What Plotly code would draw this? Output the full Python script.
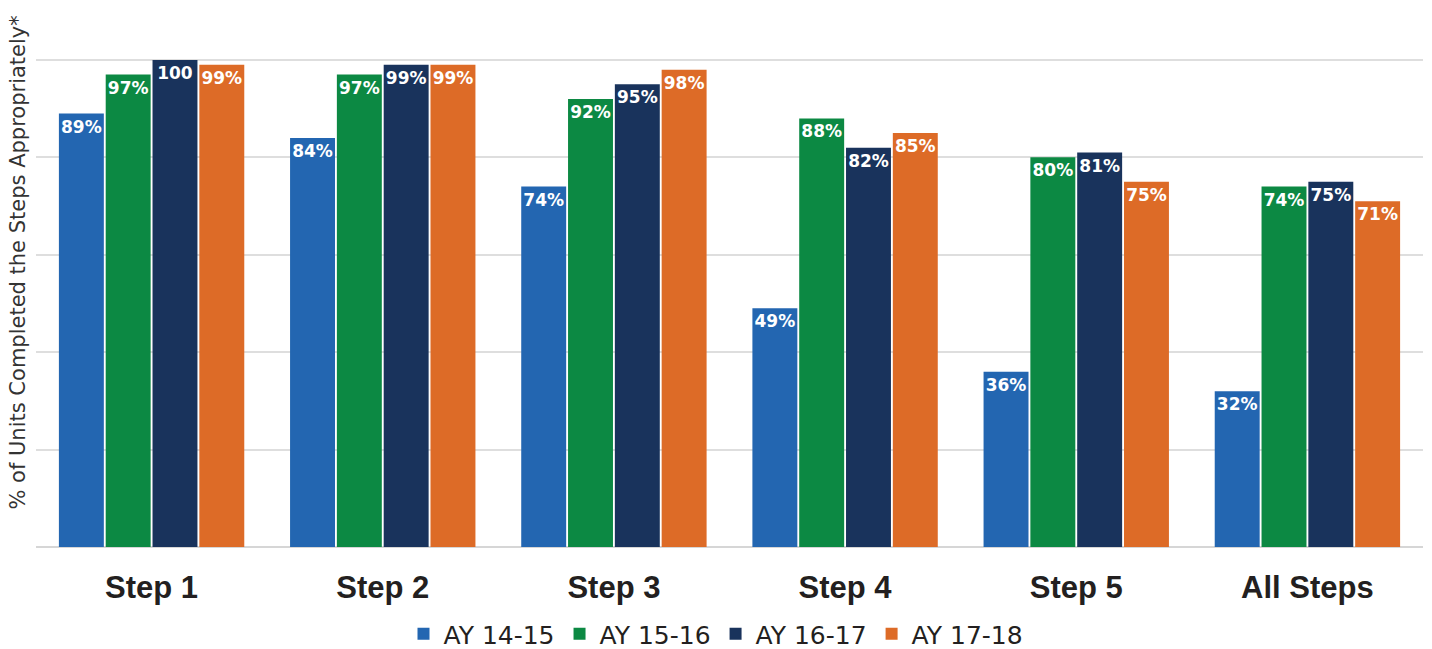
import plotly.graph_objects as go

# Categories and series
categories = ["Step 1", "Step 2", "Step 3", "Step 4", "Step 5", "All Steps"]
series_names = ["AY 14-15", "AY 15-16", "AY 16-17", "AY 17-18"]
ay_14_15 = [89, 84, 74, 49, 36, 32]
ay_15_16 = [97, 97, 92, 88, 80, 74]
ay_16_17 = [100, 99, 95, 82, 81, 75]
ay_17_18 = [99, 99, 98, 85, 75, 71]
colors = ["#2366B1", "#0C8943", "#19335C", "#DD6B27"]
y_title = "% of Units Completed the Steps Appropriately*"

all_series = [ay_14_15, ay_15_16, ay_16_17, ay_17_18]


def label(v):
    # a full score is printed without the percent sign
    return "100" if v == 100 else f"{v}%"


fig = go.Figure()
for name, vals, col in zip(series_names, all_series, colors):
    fig.add_trace(go.Bar(
        x=categories,
        y=vals,
        name=name,
        marker=dict(color=col, line=dict(width=0)),
        text=[label(v) for v in vals],
        textposition="inside",
        insidetextanchor="end",
        textangle=0,
        constraintext="none",
        textfont=dict(family="DejaVu Sans", size=17, color="white", weight="bold"),
        cliponaxis=False,
    ))

# vertical axis caption, placed a little above the plot's centre
fig.add_annotation(
    text=y_title,
    xref="paper", yref="paper",
    x=-0.013, y=0.561,
    xanchor="center", yanchor="middle",
    textangle=-90,
    showarrow=False,
    font=dict(family="DejaVu Sans", size=21, color="#333333"),
)

fig.update_layout(
    width=1432,
    height=649,
    margin=dict(l=36, r=9, t=40, b=102, autoexpand=False),
    paper_bgcolor="white",
    plot_bgcolor="white",
    barmode="group",
    bargap=0.19,
    bargroupgap=0.04,
    uniformtext=dict(minsize=17, mode="show"),
    showlegend=True,
    legend=dict(
        orientation="h",
        xref="container", yref="container",
        x=0.5, xanchor="center",
        y=1 - 634 / 649, yanchor="middle",
        font=dict(family="DejaVu Sans", size=25, color="#231F20"),
        traceorder="normal",
        tracegroupgap=0,
    ),
    xaxis=dict(
        showgrid=False,
        showline=False,
        ticks="",
        automargin=False,
        tickfont=dict(family="Liberation Sans", size=31, color="#231F20", weight="bold"),
        ticklabelstandoff=19,
    ),
    yaxis=dict(
        range=[0, 104.1],
        dtick=20,
        showticklabels=False,
        automargin=False,
        showgrid=True,
        gridcolor="#DEDEDE",
        gridwidth=1.5,
        zeroline=True,
        zerolinecolor="#D6D6D6",
        zerolinewidth=2,
    ),
)

fig.write_html("out.html")
